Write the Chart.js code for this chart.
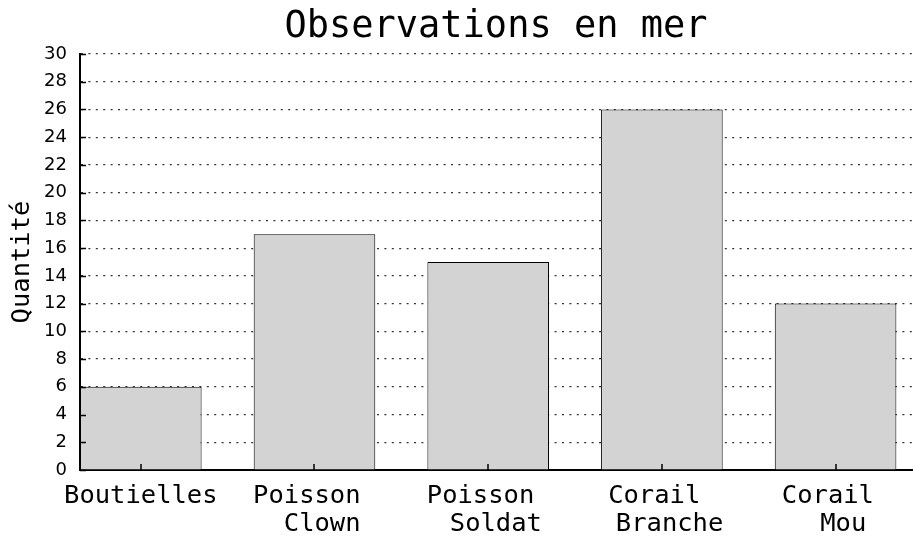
<!DOCTYPE html>
<html>
<head>
<meta charset="utf-8">
<script src="https://cdn.jsdelivr.net/npm/chart.js@4"></script>
<style>
  html, body { margin: 0; padding: 0; background: #fff; }
</style>
</head>
<body>
<canvas id="chart" width="915" height="538"></canvas>
<script>
const chartTitle = 'Observations en mer'
const yTitle = 'Quantité'
// padded so each line sits where the original put it
const categories = [
  ['Boutielles'],
  ['Poisson ', ' Clown'],
  ['Poisson ', ' Soldat'],
  ['Corail ', ' Branche'],
  ['Corail ', ' Mou'],
]
const counts = [6, 17, 15, 26, 12]
const yMin = 0
const yMax = 30
const yStep = 2

const MONO = '"DejaVu Sans Mono", monospace'
const SANS = '"DejaVu Sans", sans-serif'

Chart.defaults.color = '#000'

// title centred over the plot area, not the whole canvas
const plotTitle = {
  id: 'plotTitle',
  afterDraw(chart) {
    const { ctx, chartArea } = chart
    ctx.save()
    ctx.font = '37px ' + MONO
    ctx.fillStyle = '#000'
    ctx.textAlign = 'center'
    ctx.textBaseline = 'alphabetic'
    ctx.fillText(chartTitle, (chartArea.left + chartArea.right) / 2, 37)
    ctx.restore()
  },
}

// short tick marks pointing into the plot
const innerTicks = {
  id: 'innerTicks',
  afterDraw(chart) {
    const { ctx, chartArea, scales: { x, y } } = chart
    ctx.save()
    ctx.strokeStyle = '#000'
    ctx.lineWidth = 1.5
    ctx.beginPath()
    y.ticks.forEach(t => {
      const py = Math.round(y.getPixelForValue(t.value)) + 0.5
      ctx.moveTo(chartArea.left, py)
      ctx.lineTo(chartArea.left + 6, py)
    })
    x.ticks.forEach(t => {
      const px = Math.round(x.getPixelForValue(t.value))
      ctx.moveTo(px, chartArea.bottom)
      ctx.lineTo(px, chartArea.bottom - 6)
    })
    ctx.stroke()
    ctx.restore()
  },
}

new Chart(document.getElementById('chart'), {
  type: 'bar',
  data: {
    datasets: [{
      data: counts.map((v, i) => ({ x: i, y: v })),
      backgroundColor: '#d3d3d3',
      borderColor: '#000',
      borderWidth: 1,
      barPercentage: 0.7,
      categoryPercentage: 1,
    }],
  },
  options: {
    responsive: false,
    animation: false,
    layout: { padding: { top: 54, right: 3, left: 0, bottom: 0 } },
    plugins: { legend: { display: false }, tooltip: { enabled: false } },
    scales: {
      x: {
        type: 'linear',
        offset: false,
        min: -0.35,
        max: 4.44,
        z: 1,
        afterBuildTicks: scale => { scale.ticks = categories.map((_, i) => ({ value: i })) },
        afterFit: scale => { scale.height = 68 },
        grid: { display: false, drawTicks: false },
        border: { display: true, color: '#000', width: 2 },
        ticks: {
          autoSkip: false,
          maxRotation: 0,
          padding: 12,
          font: { family: MONO, size: 25.5, lineHeight: 1.1 },
          callback: v => categories[v],
        },
      },
      y: {
        min: yMin,
        max: yMax,
        z: 1,
        afterFit: scale => { scale.width = 80 },
        grid: { color: '#333', lineWidth: 1.2, drawTicks: false },
        border: { display: true, color: '#000', width: 2, dash: [2, 5.4] },
        ticks: {
          stepSize: yStep,
          padding: 13,
          font: { family: SANS, size: 18 },
        },
        title: {
          display: true,
          text: yTitle,
          font: { family: MONO, size: 25.5 },
          padding: { top: 7, bottom: 0 },
        },
      },
    },
  },
  plugins: [plotTitle, innerTicks],
})
</script>
</body>
</html>
